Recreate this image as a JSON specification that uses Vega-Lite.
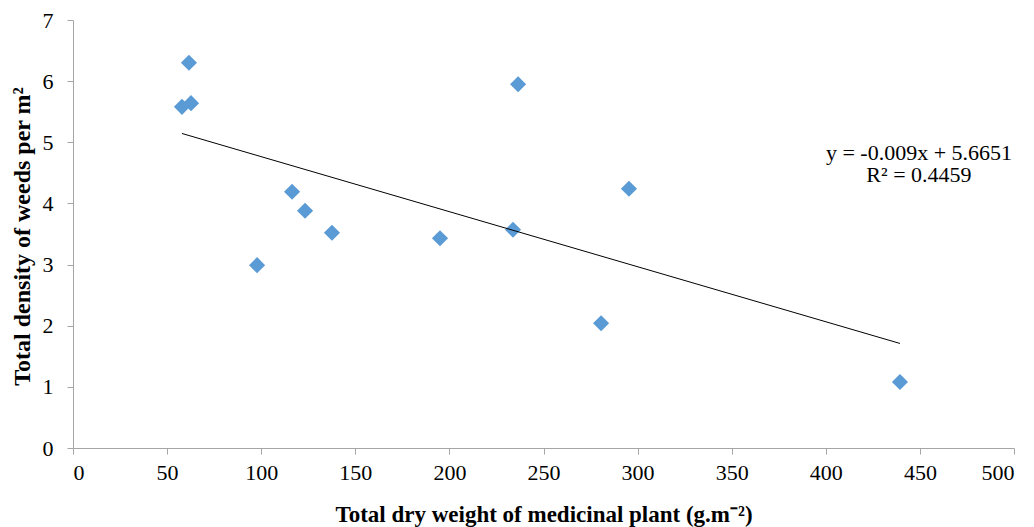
{
  "$schema": "https://vega.github.io/schema/vega-lite/v6.json",
  "width": 941,
  "height": 428,
  "autosize": {"type": "none"},
  "padding": {"left": 73, "top": 20, "right": 20, "bottom": 79},
  "background": "white",
  "config": {
    "view": {"stroke": null},
    "font": "Liberation Serif"
  },
  "datasets": {
    "points": [
      {"dry_weight": 57.9, "density": 5.58},
      {"dry_weight": 61.6, "density": 6.30},
      {"dry_weight": 62.7, "density": 5.64},
      {"dry_weight": 97.8, "density": 2.99},
      {"dry_weight": 116.4, "density": 4.19},
      {"dry_weight": 123.3, "density": 3.88},
      {"dry_weight": 137.6, "density": 3.52},
      {"dry_weight": 195.0, "density": 3.43},
      {"dry_weight": 233.8, "density": 3.57},
      {"dry_weight": 236.5, "density": 5.95},
      {"dry_weight": 280.6, "density": 2.04},
      {"dry_weight": 295.4, "density": 4.24},
      {"dry_weight": 439.4, "density": 1.08}
    ],
    "trend": [
      {"dry_weight": 57.9, "density": 5.144},
      {"dry_weight": 439.4, "density": 1.710}
    ],
    "labels": [
      {"label": "y = -0.009x + 5.6651", "lx": 449.5, "ly": 4.83},
      {"label": "R² = 0.4459", "lx": 449.5, "ly": 4.47}
    ]
  },
  "layer": [
    {
      "data": {"name": "points"},
      "mark": {"type": "point", "shape": "diamond", "filled": true, "size": 260, "color": "#5b9bd5", "opacity": 1},
      "encoding": {
        "x": {
          "field": "dry_weight", "type": "quantitative",
          "scale": {"domain": [0, 500], "nice": false},
          "axis": {
            "values": [0, 50, 100, 150, 200, 250, 300, 350, 400, 450, 500],
            "format": "d",
            "grid": false,
            "domainColor": "#a6a6a6", "tickColor": "#a6a6a6", "tickSize": 6,
            "labelFont": "Liberation Serif", "labelFontSize": 22, "labelColor": "#000000", "labelPadding": 8,
            "title": "Total dry weight of medicinal plant (g.m⁻²)",
            "titleFont": "Liberation Serif", "titleFontSize": 23, "titleFontWeight": "bold", "titleColor": "#000000",
            "titleY": 73, "titleBaseline": "alphabetic"
          }
        },
        "y": {
          "field": "density", "type": "quantitative",
          "scale": {"domain": [0, 7], "nice": false},
          "axis": {
            "values": [0, 1, 2, 3, 4, 5, 6, 7],
            "format": "d",
            "grid": false,
            "domainColor": "#a6a6a6", "tickColor": "#a6a6a6", "tickSize": 6,
            "labelFont": "Liberation Serif", "labelFontSize": 22, "labelColor": "#000000", "labelPadding": 14,
            "title": "Total density of weeds per m²",
            "titleFont": "Liberation Serif", "titleFontSize": 24, "titleFontWeight": "bold", "titleColor": "#000000",
            "titleX": -51, "titleY": 216, "titleBaseline": "middle", "titleAlign": "center"
          }
        }
      }
    },
    {
      "data": {"name": "trend"},
      "mark": {"type": "line", "color": "#000000", "strokeWidth": 1},
      "encoding": {
        "x": {"field": "dry_weight", "type": "quantitative"},
        "y": {"field": "density", "type": "quantitative"}
      }
    },
    {
      "data": {"name": "labels"},
      "mark": {"type": "text", "font": "Liberation Serif", "fontSize": 22, "align": "center", "baseline": "middle", "color": "#000000"},
      "encoding": {
        "x": {"field": "lx", "type": "quantitative"},
        "y": {"field": "ly", "type": "quantitative"},
        "text": {"field": "label"}
      }
    }
  ]
}
